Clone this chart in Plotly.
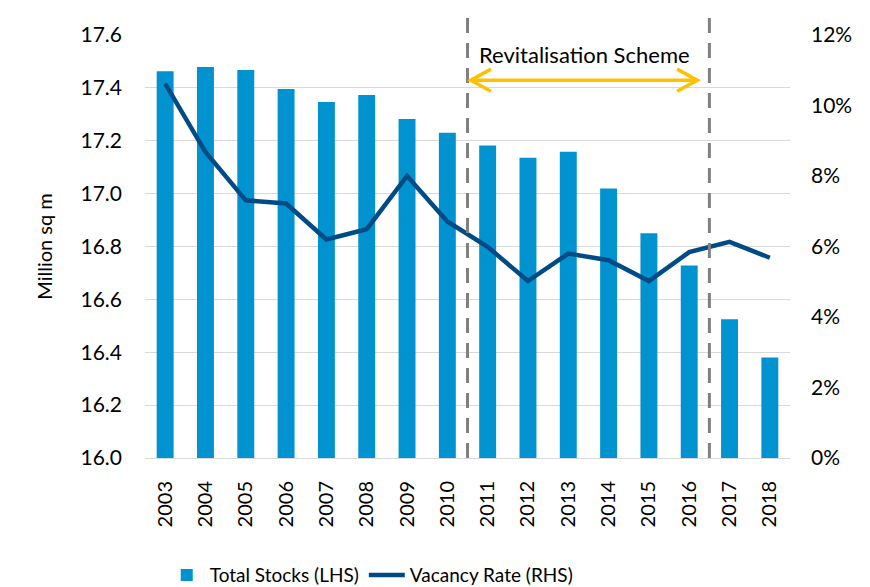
import plotly.graph_objects as go

years = [2003, 2004, 2005, 2006, 2007, 2008, 2009, 2010, 2011, 2012, 2013, 2014, 2015, 2016, 2017, 2018]
total_stocks = [17.463, 17.479, 17.468, 17.396, 17.347, 17.373, 17.282, 17.230,
                17.182, 17.136, 17.158, 17.019, 16.850, 16.728, 16.525, 16.380]
vacancy_rate = [10.62, 8.68, 7.31, 7.22, 6.20, 6.49, 8.00, 6.71,
                5.99, 5.02, 5.80, 5.61, 5.02, 5.84, 6.13, 5.68]
left_ticks = [16.0, 16.2, 16.4, 16.6, 16.8, 17.0, 17.2, 17.4, 17.6]
right_ticks = [0, 2, 4, 6, 8, 10, 12]
scheme_start, scheme_end = 2010.5, 2016.5
scheme_label = "Revitalisation Scheme"

FONT = "Lato, Carlito, Calibri, sans-serif"
BAR_C = "#0093D0"
LINE_C = "#004B85"
ARROW_C = "#FFC000"

fig = go.Figure()
fig.add_trace(go.Bar(x=years, y=total_stocks, name="Total Stocks (LHS)",
                     marker=dict(color=BAR_C, line=dict(width=0)), width=0.42))
fig.add_trace(go.Scatter(x=years, y=vacancy_rate, name="Vacancy Rate (RHS)", yaxis="y2",
                         mode="lines", line=dict(color=LINE_C, width=4.5)))

shapes = []
for xv in (scheme_start, scheme_end):
    shapes.append(dict(type="line", xref="x", yref="paper", x0=xv, x1=xv, y0=0, y1=1.07,
                       line=dict(color="#808080", width=3, dash="15px,10px")))
ay = 17.429
x0a, x1a = scheme_start + 0.08, scheme_end - 0.3
shapes.append(dict(type="line", xref="x", yref="y", x0=x0a, x1=x1a, y0=ay, y1=ay,
                   line=dict(color=ARROW_C, width=3.5)))
dxh, dyh = 0.5, 0.042
shapes.append(dict(type="path", xref="x", yref="y",
                   path=f"M{x0a+dxh},{ay+dyh} L{x0a},{ay} L{x0a+dxh},{ay-dyh}",
                   line=dict(color=ARROW_C, width=3.5)))
shapes.append(dict(type="path", xref="x", yref="y",
                   path=f"M{x1a-dxh},{ay+dyh} L{x1a},{ay} L{x1a-dxh},{ay-dyh}",
                   line=dict(color=ARROW_C, width=3.5)))

fig.update_layout(
    width=870, height=587,
    margin=dict(l=137, r=88, t=27, b=137, autoexpand=False),
    paper_bgcolor="white", plot_bgcolor="white",
    font=dict(family=FONT, size=21, color="#000000"),
    showlegend=True,
    legend=dict(orientation="h", x=0.35, xanchor="center", y=-0.277, yanchor="middle",
                font=dict(size=19), itemwidth=36, tracegroupgap=0),
    xaxis=dict(range=[2002.5, 2018.5], tickmode="array", tickvals=years,
               ticktext=[str(y) for y in years], tickangle=-90, showgrid=False,
               showline=True, linecolor="#D9D9D9", linewidth=1, ticks="",
               tickfont=dict(size=20), automargin=False, ticklabelstandoff=14),
    yaxis=dict(range=[16.0, 17.6], tickmode="array", tickvals=left_ticks,
               ticktext=[f"{v:.1f}" for v in left_ticks],
               showgrid=True, gridcolor="#D9D9D9", gridwidth=1, zeroline=False,
               showline=False, ticks="", ticklabelstandoff=22, automargin=False,
               title=dict(text="Million sq m", font=dict(size=20), standoff=22)),
    yaxis2=dict(range=[0, 12], overlaying="y", side="right", tickmode="array",
                tickvals=right_ticks, ticktext=[f"{v}%" for v in right_ticks],
                showgrid=False, zeroline=False, showline=False, ticks="",
                ticklabelstandoff=20, automargin=False),
    shapes=shapes,
    annotations=[dict(text=scheme_label, xref="x", yref="y",
                      x=(x0a + x1a) / 2, y=17.525, showarrow=False,
                      font=dict(size=22, color="#000000"))],
)

fig.write_html("out.html")
